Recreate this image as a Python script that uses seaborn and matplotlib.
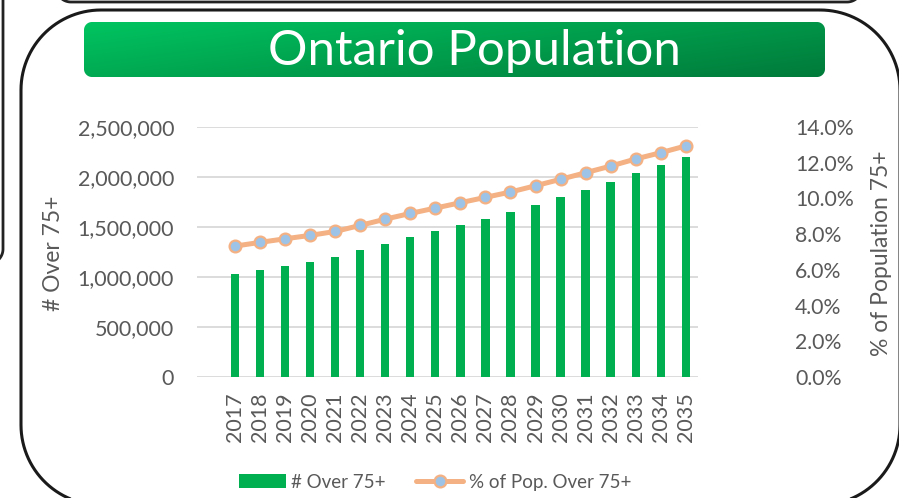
import numpy as np
import pandas as pd
import seaborn as sns
import matplotlib.pyplot as plt
from matplotlib.patches import PathPatch, Patch
from matplotlib.path import Path
from matplotlib.lines import Line2D
from matplotlib.ticker import FuncFormatter

# values
years = ['2017', '2018', '2019', '2020', '2021', '2022', '2023', '2024', '2025', '2026',
         '2027', '2028', '2029', '2030', '2031', '2032', '2033', '2034', '2035']
over_75 = [1034000, 1070000, 1114000, 1154000, 1204000, 1270000, 1334000, 1397000,
           1457000, 1520000, 1584000, 1650000, 1724000, 1797000, 1874000, 1954000,
           2037000, 2117000, 2204000]
pct_over_75 = [7.33, 7.54, 7.74, 7.93, 8.15, 8.49, 8.84, 9.16, 9.46, 9.76, 10.06,
               10.36, 10.71, 11.07, 11.44, 11.81, 12.21, 12.56, 12.94]

df = pd.DataFrame({'year': years, 'over': over_75, 'pct': pct_over_75})

sns.set_style('white')
plt.rcParams['font.family'] = ['Lato', 'DejaVu Sans']

GREY = '#595959'
GREEN = '#00B050'
ORANGE = '#F4B183'
BLUE = '#9DC3E6'

W, H = 899, 498
fig = plt.figure(figsize=(W / 100, H / 100), dpi=100)


def rounded_box(x0, y0, x1, y1, r):
    # rounded rectangle given in pixel coords (y down), returned in y-up coords
    pts = []
    corners = [(x1 - r, y0 + r, -90, 0), (x1 - r, y1 - r, 0, 90),
               (x0 + r, y1 - r, 90, 180), (x0 + r, y0 + r, 180, 270)]
    for cx, cy, a0, a1 in corners:
        a = np.radians(np.linspace(a0, a1, 30))
        pts += list(zip(cx + r * np.cos(a), cy + r * np.sin(a)))
    pts.append(pts[0])
    pts = np.array(pts)
    pts[:, 1] = H - pts[:, 1]
    return Path(pts, closed=True)


# background layer in pixel coordinates: frames and title banner
bg = fig.add_axes([0, 0, 1, 1], zorder=-1)
bg.set_xlim(0, W)
bg.set_ylim(0, H)
bg.axis('off')

# bits of neighbouring boxes
bg.add_patch(PathPatch(rounded_box(56, -60, 862, 2, 15), fc='none', ec='#222222', lw=2))
bg.add_patch(PathPatch(rounded_box(-60, -40, 3, 264, 15), fc='none', ec='#222222', lw=2))
# main rounded frame
bg.add_patch(PathPatch(rounded_box(21, 10, 900, 505, 80), fc='none', ec='#1a1a1a', lw=2.2))

# green gradient banner
banner = PathPatch(rounded_box(84, 22, 825, 77, 8), fc='none', ec='none')
bg.add_patch(banner)
gx, gy = np.meshgrid(np.linspace(0, 1, 200), np.linspace(0, 1, 40))
t = np.clip(0.65 * gx + 0.35 * gy, 0, 1)
c0 = np.array([0, 196, 96]) / 255
c1 = np.array([0, 122, 58]) / 255
img = c0[None, None, :] * (1 - t[..., None]) + c1[None, None, :] * t[..., None]
im = bg.imshow(img, extent=(84, 825, H - 77, H - 22), aspect='auto',
               interpolation='bilinear', origin='upper')
im.set_clip_path(banner)
bg.set_xlim(0, W)
bg.set_ylim(0, H)
bg.text(474, H - 51, 'Ontario Population', color='white', fontsize=35.5,
        ha='center', va='center')

# chart
ax = fig.add_axes([197 / W, 121 / H, 501 / W, 250 / H])
ax.patch.set_visible(False)
sns.barplot(data=df, x='year', y='over', color=GREEN, saturation=1, width=0.33,
            edgecolor='none', ax=ax)

ax2 = ax.twinx()
sns.pointplot(data=df, x='year', y='pct', color=ORANGE, errorbar=None,
              linewidth=3.6, markersize=8.5, markerfacecolor=BLUE,
              markeredgecolor=ORANGE, markeredgewidth=1.6, ax=ax2)

ax.set_ylim(0, 2500000)
ax.set_yticks(np.arange(0, 2500001, 500000))
ax.yaxis.set_major_formatter(FuncFormatter(lambda v, p: f'{v:,.0f}'))
ax2.set_ylim(0, 14)
ax2.set_yticks(np.arange(0, 14.1, 2))
ax2.yaxis.set_major_formatter(FuncFormatter(lambda v, p: f'{v:.1f}%'))
ax.set_xlim(-1.52, 18.49)

ax.grid(axis='y', color='#D9D9D9', lw=1.3)
ax.grid(axis='x', visible=False)
ax.set_axisbelow(True)
for a in (ax, ax2):
    for s in a.spines.values():
        s.set_visible(False)
    a.set_xlabel('')
    a.set_ylabel('')

ax.tick_params(axis='y', length=0, pad=16.5, labelsize=15.5, labelcolor=GREY)
ax.tick_params(axis='x', length=0, pad=11, labelsize=15.5, labelcolor=GREY,
               labelrotation=90)
ax2.tick_params(axis='y', length=0, pad=70, labelsize=15.3, labelcolor=GREY)

fig.text(54 / W, 1 - 253 / H, '# Over 75+', rotation=90, fontsize=16.5,
         color=GREY, ha='center', va='center')
fig.text(882 / W, 1 - 253 / H, '% of Population 75+', rotation=90, fontsize=16.5,
         color=GREY, ha='center', va='center')

handles = [Patch(facecolor=GREEN, edgecolor='none', label='# Over 75+'),
           Line2D([], [], color=ORANGE, lw=3.6, marker='o', markersize=8.5,
                  markerfacecolor=BLUE, markeredgecolor=ORANGE,
                  markeredgewidth=1.6, label='% of Pop. Over 75+')]
fig.legend(handles=handles, loc='center', bbox_to_anchor=(435 / W, 1 - 482 / H),
           ncol=2, frameon=False, fontsize=13.5, labelcolor=GREY,
           handlelength=2.5, handletextpad=0.3, columnspacing=1.6)

fig.savefig('out.png', dpi=100)
